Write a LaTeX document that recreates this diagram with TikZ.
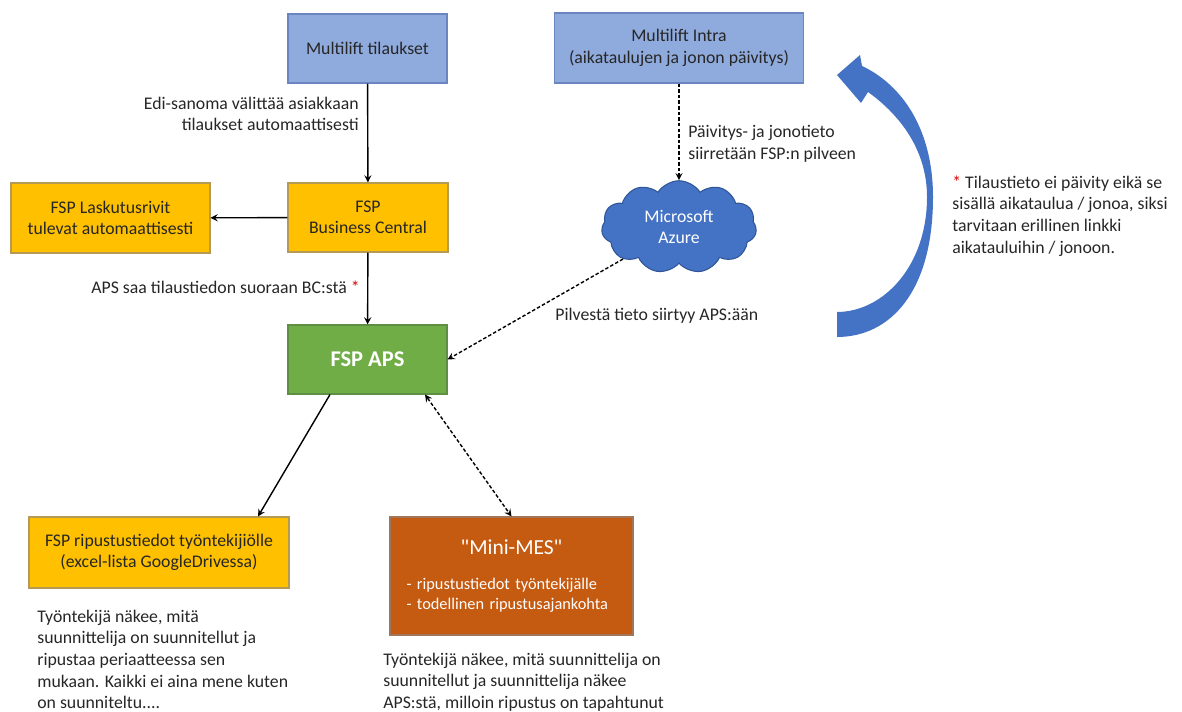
\documentclass[tikz,border=0pt]{standalone}
\usepackage{fontspec}
\setmainfont{Carlito}
\usetikzlibrary{shapes.symbols, arrows, positioning, calc}
\definecolor{sininen}{HTML}{8FAADC}
\definecolor{sinireuna}{HTML}{6A86C0}
\definecolor{keltainen}{HTML}{FFC000}
\definecolor{keltareuna}{HTML}{B49A55}
\definecolor{vihrea}{HTML}{70AD47}
\definecolor{vihreareuna}{HTML}{5E8F44}
\definecolor{oranssi}{HTML}{C55A11}
\definecolor{oranssireuna}{HTML}{A0765A}
\definecolor{azure}{HTML}{4472C4}
\definecolor{azurereuna}{HTML}{2F5597}
\definecolor{teksti}{HTML}{262626}
\definecolor{tahti}{HTML}{E00000}
\newcommand{\perus}{\fontsize{10.1pt}{12.3pt}\selectfont}
\newcommand{\pieni}{\fontsize{9.3pt}{11.3pt}\selectfont}
\tikzset{
  laatikko/.style={rectangle, minimum width=3.18cm, minimum height=1.38cm, text centered,
                   align=center, font=\perus, text=teksti, line width=0.6pt},
  sininenl/.style={laatikko, draw=sinireuna, fill=sininen},
  keltainenl/.style={laatikko, draw=keltareuna, fill=keltainen},
  vihreal/.style={laatikko, draw=vihreareuna, fill=vihrea, text=white,
                  font=\fontsize{12.8pt}{15pt}\selectfont\bfseries},
  oranssil/.style={laatikko, draw=oranssireuna, fill=oranssi, text=white, align=left,
                   minimum width=4.86cm, minimum height=2.36cm, text width=4.2cm, font=\pieni},
  pilvi/.style={cloud, cloud puffs=11, cloud puff arc=115, aspect=1.7, minimum width=3.1cm,
                minimum height=1.85cm, draw=azurereuna, fill=azure, text=white, align=center,
                font=\perus, line width=0.6pt},
  selite/.style={font=\perus, text=teksti, inner sep=0pt},
  nuoli/.style={thick, ->, >=stealth, color=black},
  katkonuoli/.style={nuoli, dash pattern=on 2pt off 1.2pt},
  kaari/.style={fill=azure}
}
\begin{document}
\begin{tikzpicture}
  \useasboundingbox (0,0) rectangle (23.64,14.24);
  % Lähteet
  \node (tilaukset) [sininenl] at (7.35,13.27) {Multilift tilaukset};
  \node (intra) [sininenl, minimum width=4.98cm, minimum height=1.40cm] at (13.58,13.28) {Multilift Intra\\ (aikataulujen ja jonon päivitys)};
  % Keskirivi
  \node (bc) [keltainenl, minimum width=3.20cm] at (7.36,9.89) {FSP\\ Business Central};
  \node (lasku) [keltainenl, minimum width=3.98cm, minimum height=1.40cm] at (2.21,9.88) {FSP Laskutusrivit\\ tulevat automaattisesti};
  \node (azure) [pilvi] at (13.58,9.70) {Microsoft\\ Azure};
  \node (aps) [vihreal] at (7.35,7.05) {FSP APS};
  % Alarivi
  \node (ripustus) [keltainenl, minimum width=5.20cm, minimum height=1.42cm] at (3.18,3.19) {FSP ripustustiedot työntekijiölle\\ (excel-lista GoogleDrivessa)};
  \node (minimes) [oranssil] at (10.23,2.72) {{\centering\fontsize{12.2pt}{14.6pt}\selectfont \textquotedbl Mini-MES\textquotedbl\par}\vspace{9pt}- ripustustiedot työntekijälle\\ - todellinen ripustusajankohta};
  % Nuolet
  \draw [nuoli] (tilaukset) -- (bc);
  \draw [nuoli] (bc) -- (lasku);
  \draw [nuoli] (bc) -- (aps);
  \draw [katkonuoli] (intra) -- (azure);
  \draw [katkonuoli] (azure) -- (aps.east);
  \draw [nuoli] ([xshift=-0.75cm]aps.south) -- ([xshift=1.98cm]ripustus.north);
  \draw [katkonuoli, <->] ([xshift=1.15cm]aps.south) -- (minimes.north);
  % Selitteet
  \node (edi) [selite, anchor=east, align=right] at (7.18,11.96) {Edi-sanoma välittää asiakkaan\\ tilaukset automaattisesti};
  \node (saa) [selite, anchor=east] at (7.20,8.50) {APS saa tilaustiedon suoraan BC:stä \textcolor{tahti}{*}};
  \node (siirto) [selite, anchor=west, align=left] at (13.76,11.36) {Päivitys- ja jonotieto\\ siirretään FSP:n pilveen};
  \node (pilvesta) [selite, anchor=west] at (11.10,7.92) {Pilvestä tieto siirtyy APS:ään};
  \node (huom) [selite, anchor=west, align=left] at (19.04,9.92) {\textcolor{tahti}{*} Tilaustieto ei päivity eikä se\\ sisällä aikataulua / jonoa, siksi\\ tarvitaan erillinen linkki\\ aikatauluihin / jonoon.};
  \node (tyo1) [selite, anchor=west, align=left] at (0.74,1.05) {Työntekijä näkee, mitä\\ suunnittelija on suunnitellut ja\\ ripustaa periaatteessa sen\\ mukaan. Kaikki ei aina mene kuten\\ on suunniteltu....};
  \node (tyo2) [selite, anchor=west, align=left] at (7.66,0.60) {Työntekijä näkee, mitä suunnittelija on\\ suunnitellut ja suunnittelija näkee\\ APS:stä, milloin ripustus on tapahtunut};
  % Kaareva nuoli
  \fill [kaari] (16.74,7.50) .. controls (17.80,7.50) and (18.66,8.40) .. (18.66,10.30)
      .. controls (18.66,11.64) and (18.05,12.54) .. (17.24,12.92)
      -- (17.20,13.14) -- (16.74,12.74) -- (17.22,12.18) -- (17.36,12.40)
      .. controls (18.00,11.94) and (18.54,11.24) .. (18.54,10.30)
      .. controls (18.54,8.90) and (17.65,8.00) .. (16.74,8.00) -- cycle;
\end{tikzpicture}
\end{document}
